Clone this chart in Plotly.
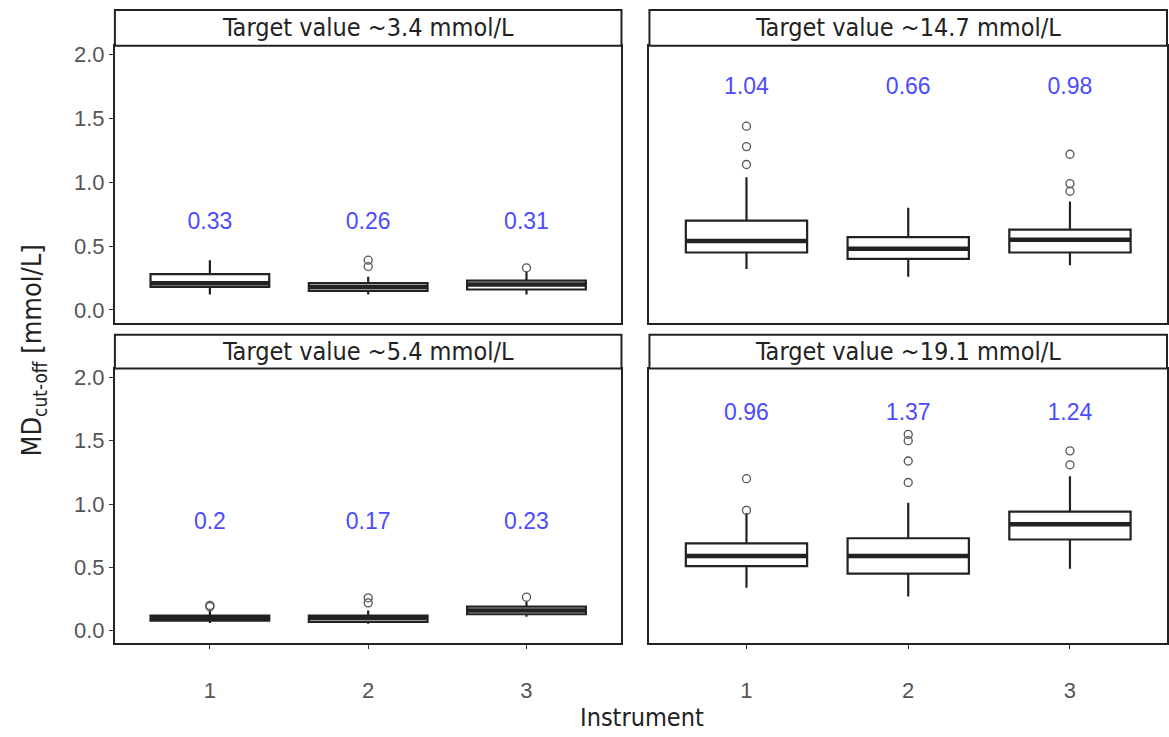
import plotly.graph_objects as go

instruments = [1, 2, 3]
panel_titles = ["Target value ~3.4 mmol/L", "Target value ~14.7 mmol/L",
                "Target value ~5.4 mmol/L", "Target value ~19.1 mmol/L"]

# box statistics per panel (order: 3.4, 14.7, 5.4, 19.1), per instrument 1..3
q1_34 = [0.18, 0.15, 0.16]
med_34 = [0.21, 0.18, 0.20]
q3_34 = [0.28, 0.21, 0.23]
lo_34 = [0.12, 0.12, 0.12]
hi_34 = [0.39, 0.26, 0.30]
out_34 = [[], [0.34, 0.39], [0.33]]
lab_34 = ["0.33", "0.26", "0.31"]

q1_147 = [0.45, 0.40, 0.45]
med_147 = [0.54, 0.48, 0.55]
q3_147 = [0.70, 0.57, 0.63]
lo_147 = [0.32, 0.26, 0.35]
hi_147 = [1.04, 0.80, 0.85]
out_147 = [[1.14, 1.28, 1.44], [], [0.93, 0.99, 1.22]]
lab_147 = ["1.04", "0.66", "0.98"]

q1_54 = [0.08, 0.07, 0.13]
med_54 = [0.10, 0.10, 0.16]
q3_54 = [0.12, 0.12, 0.19]
lo_54 = [0.06, 0.055, 0.11]
hi_54 = [0.16, 0.16, 0.23]
out_54 = [[0.19, 0.20], [0.22, 0.26], [0.265]]
lab_54 = ["0.2", "0.17", "0.23"]

q1_191 = [0.51, 0.45, 0.72]
med_191 = [0.59, 0.59, 0.84]
q3_191 = [0.69, 0.73, 0.94]
lo_191 = [0.34, 0.27, 0.49]
hi_191 = [0.93, 1.01, 1.22]
out_191 = [[0.95, 1.20], [1.17, 1.34, 1.50, 1.55], [1.31, 1.42]]
lab_191 = ["0.96", "1.37", "1.24"]

label_y = [0.68, 1.74, 0.85, 1.71]

panels = [
    (q1_34, med_34, q3_34, lo_34, hi_34, out_34, lab_34),
    (q1_147, med_147, q3_147, lo_147, hi_147, out_147, lab_147),
    (q1_54, med_54, q3_54, lo_54, hi_54, out_54, lab_54),
    (q1_191, med_191, q3_191, lo_191, hi_191, out_191, lab_191),
]

W, H = 1169, 737
def px_x(p): return p / W
def px_y(p): return 1 - p / H

xdoms = [(px_x(115), px_x(622)), (px_x(650), px_x(1168))]
ydoms = [(px_y(321), px_y(43)), (px_y(643), px_y(367))]
strip = [(px_y(43), px_y(7)), (px_y(367), px_y(333))]

NARROW = "DejaVu Sans Condensed, Roboto, Liberation Sans, sans-serif"
SANS = "Liberation Sans, Arial, sans-serif"

BOXW = 0.75
fig = go.Figure()
layout = dict(width=W, height=H, margin=dict(l=0, r=0, t=0, b=0),
              plot_bgcolor="white", paper_bgcolor="white", showlegend=False)
annotations = []
shapes = []

for i, (q1, med, q3, lo, hi, outs, labs) in enumerate(panels):
    row, col = divmod(i, 2)
    n = i + 1
    xa = "x" if n == 1 else f"x{n}"
    ya = "y" if n == 1 else f"y{n}"
    fig.add_trace(go.Box(x=instruments, q1=q1, median=med, q3=q3,
                         lowerfence=lo, upperfence=hi, width=BOXW,
                         whiskerwidth=0, boxpoints=False,
                         line=dict(color="#222222", width=2.2),
                         fillcolor="white", xaxis=xa, yaxis=ya, hoverinfo="skip"))
    # thick median lines
    mx, my = [], []
    for xi, m in zip(instruments, med):
        mx += [xi - BOXW / 2, xi + BOXW / 2, None]
        my += [m, m, None]
    fig.add_trace(go.Scatter(x=mx, y=my, mode="lines",
                             line=dict(color="#222222", width=4.5),
                             xaxis=xa, yaxis=ya, hoverinfo="skip"))
    ox, oy = [], []
    for xi, o in zip(instruments, outs):
        ox += [xi] * len(o)
        oy += o
    if ox:
        fig.add_trace(go.Scatter(x=ox, y=oy, mode="markers",
                                 marker=dict(symbol="circle-open", size=8,
                                             color="#555555", line=dict(width=1.3)),
                                 xaxis=xa, yaxis=ya))
    fig.add_trace(go.Scatter(x=instruments, y=[label_y[i]] * 3, mode="text",
                             text=labs,
                             textfont=dict(family=SANS, size=23, color="#4b4bff"),
                             xaxis=xa, yaxis=ya))
    xkey = "xaxis" if n == 1 else f"xaxis{n}"
    ykey = "yaxis" if n == 1 else f"yaxis{n}"
    layout[xkey] = dict(domain=list(xdoms[col]), anchor=ya, range=[0.4, 3.6],
                        tickvals=instruments, ticktext=[str(v) for v in instruments],
                        showticklabels=(row == 1), ticks="outside" if row == 1 else "",
                        ticklen=4, tickcolor="#333", ticklabelstandoff=22,
                        tickfont=dict(family=SANS, size=22, color="#555555"),
                        showline=True, mirror=True, linecolor="#222222", linewidth=2,
                        showgrid=False, zeroline=False, fixedrange=True)
    layout[ykey] = dict(domain=list(ydoms[row]), anchor=xa, range=[-0.1, 2.07],
                        tickvals=[0, 0.5, 1.0, 1.5, 2.0],
                        ticktext=["0.0", "0.5", "1.0", "1.5", "2.0"],
                        showticklabels=(col == 0), ticks="outside" if col == 0 else "",
                        ticklen=4, tickcolor="#333",
                        tickfont=dict(family=SANS, size=22, color="#555555"),
                        showline=True, mirror=True, linecolor="#222222", linewidth=2,
                        showgrid=False, zeroline=False, fixedrange=True)
    # strip
    shapes.append(dict(type="rect", xref="paper", yref="paper",
                       x0=xdoms[col][0], x1=xdoms[col][1],
                       y0=strip[row][0], y1=strip[row][1],
                       fillcolor="white", line=dict(color="#222222", width=2)))
    annotations.append(dict(xref="paper", yref="paper",
                            x=(xdoms[col][0] + xdoms[col][1]) / 2,
                            y=(strip[row][0] + strip[row][1]) / 2,
                            text=panel_titles[i], showarrow=False,
                            font=dict(family=NARROW, size=25, color="#222222"),
                            xanchor="center", yanchor="middle"))

annotations.append(dict(xref="paper", yref="paper", x=px_x(643), y=px_y(717),
                        text="Instrument", showarrow=False,
                        font=dict(family=NARROW, size=25, color="#222222"),
                        xanchor="center", yanchor="middle"))
annotations.append(dict(xref="paper", yref="paper", x=px_x(34), y=px_y(349),
                        text="MD<sub>cut-off</sub> [mmol/L]", showarrow=False, textangle=-90,
                        font=dict(family=NARROW, size=27, color="#222222"),
                        xanchor="center", yanchor="middle"))

layout["annotations"] = annotations
layout["shapes"] = shapes
fig.update_layout(**layout)
fig.write_html("out.html", config={"displayModeBar": False},
               post_script="document.body.style.margin='0px';document.body.style.padding='0px';")
